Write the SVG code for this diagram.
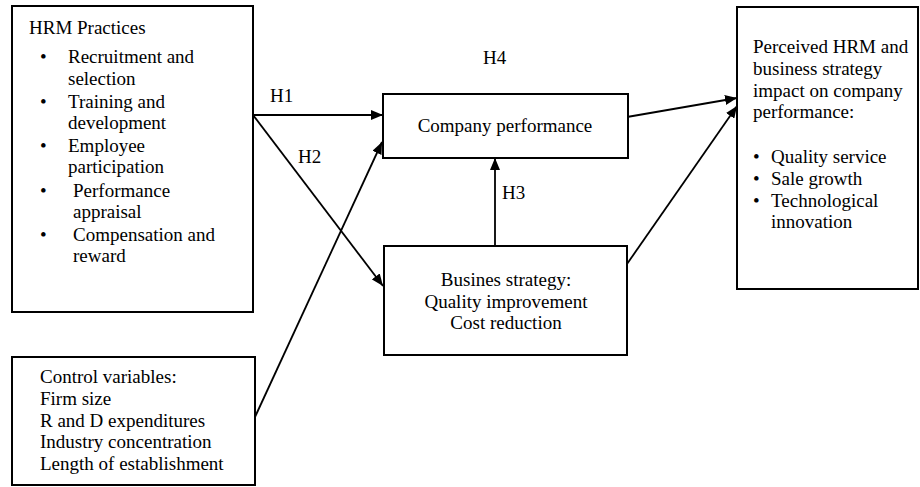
<svg xmlns="http://www.w3.org/2000/svg" width="920" height="487" viewBox="0 0 920 487">
<style>
.box{fill:#fff;stroke:#000;stroke-width:2}
.t{font-family:"Liberation Serif","Times New Roman",serif;font-size:19px;fill:#000}
.c{text-anchor:middle}
.ln{stroke:#000;stroke-width:1.8;fill:none}
</style>
<defs>
<marker id="ah" viewBox="0 0 12 10" refX="12" refY="5" markerWidth="12" markerHeight="10" markerUnits="userSpaceOnUse" orient="auto">
<path d="M0,0 L12,5 L0,10 Z" fill="#000"/>
</marker>
</defs>
<rect width="920" height="487" fill="#fff"/>
<g id="connectors">
<line class="ln" x1="253" y1="115" x2="383" y2="115" marker-end="url(#ah)"/>
<line class="ln" x1="253" y1="115" x2="383" y2="286" marker-end="url(#ah)"/>
<line class="ln" x1="255" y1="417" x2="382" y2="142" marker-end="url(#ah)"/>
<line class="ln" x1="495" y1="246" x2="495" y2="158" marker-end="url(#ah)"/>
<line class="ln" x1="627" y1="117" x2="737" y2="98" marker-end="url(#ah)"/>
<line class="ln" x1="627" y1="264" x2="737" y2="106" marker-end="url(#ah)"/>
<text class="t" x="270" y="102">H1</text>
<text class="t" x="298" y="163">H2</text>
<text class="t" x="502" y="199">H3</text>
<text class="t" x="483" y="64">H4</text>
</g>
<g id="hrm">
<rect class="box" x="12" y="6" width="241" height="306"/>
<text class="t" x="29" y="34">HRM Practices</text>
<g class="t">
<text x="40" y="63">•</text><text x="68" y="63">Recruitment and</text>
<text x="68" y="85">selection</text>
<text x="40" y="108">•</text><text x="68" y="108">Training and</text>
<text x="68" y="129">development</text>
<text x="40" y="152">•</text><text x="68" y="152">Employee</text>
<text x="68" y="173">participation</text>
<text x="40" y="197">•</text><text x="73" y="197">Performance</text>
<text x="73" y="218">appraisal</text>
<text x="40" y="241">•</text><text x="73" y="241">Compensation and</text>
<text x="73" y="262">reward</text>
</g>
</g>
<g id="company">
<rect class="box" x="383" y="94" width="245" height="64"/>
<text class="t c" x="505" y="132">Company performance</text>
</g>
<g id="strategy">
<rect class="box" x="384" y="246" width="243" height="109"/>
<text class="t c" x="506" y="286">Busines strategy:</text>
<text class="t c" x="506" y="308">Quality improvement</text>
<text class="t c" x="506" y="329">Cost reduction</text>
</g>
<g id="perceived">
<rect class="box" x="737" y="7" width="181" height="282"/>
<g class="t">
<text x="753" y="53">Perceived HRM and</text>
<text x="753" y="75">business strategy</text>
<text x="753" y="97">impact on company</text>
<text x="753" y="118">performance:</text>
<text x="753" y="163">•</text><text x="771" y="163">Quality service</text>
<text x="753" y="185">•</text><text x="771" y="185">Sale growth</text>
<text x="753" y="207">•</text><text x="771" y="207">Technological</text>
<text x="771" y="228">innovation</text>
</g>
</g>
<g id="control">
<rect class="box" x="12" y="357" width="243" height="128"/>
<g class="t">
<text x="40" y="383">Control variables:</text>
<text x="40" y="405">Firm size</text>
<text x="40" y="427">R and D expenditures</text>
<text x="40" y="448">Industry concentration</text>
<text x="40" y="470">Length of establishment</text>
</g>
</g>
</svg>
